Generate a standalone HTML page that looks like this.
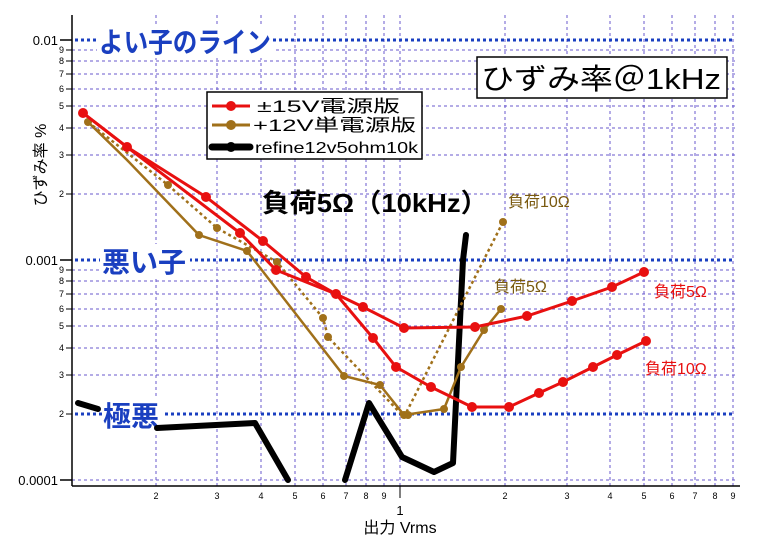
<!DOCTYPE html>
<html><head><meta charset="utf-8"><style>
html,body{margin:0;padding:0;background:#fff;}
svg{display:block;font-family:"Liberation Sans","Noto Sans CJK JP",sans-serif;}
</style></head><body>
<svg width="769" height="539" viewBox="0 0 769 539" xmlns="http://www.w3.org/2000/svg">
<rect width="769" height="539" fill="#fff"/>
<g stroke="#6a5acd" stroke-width="1" stroke-dasharray="3,3">
<line x1="156" y1="15" x2="156" y2="486"/><line x1="217" y1="15" x2="217" y2="486"/>
<line x1="261" y1="15" x2="261" y2="486"/><line x1="295" y1="15" x2="295" y2="486"/>
<line x1="323" y1="15" x2="323" y2="486"/><line x1="346" y1="15" x2="346" y2="486"/>
<line x1="366" y1="15" x2="366" y2="486"/><line x1="384" y1="15" x2="384" y2="486"/>
<line x1="400" y1="15" x2="400" y2="486"/><line x1="505" y1="15" x2="505" y2="486"/>
<line x1="567" y1="15" x2="567" y2="486"/><line x1="610" y1="15" x2="610" y2="486"/>
<line x1="644" y1="15" x2="644" y2="486"/><line x1="672" y1="15" x2="672" y2="486"/>
<line x1="695" y1="15" x2="695" y2="486"/><line x1="715" y1="15" x2="715" y2="486"/>
<line x1="733" y1="15" x2="733" y2="486"/>
<line x1="72" y1="50" x2="735" y2="50"/><line x1="72" y1="61" x2="735" y2="61"/>
<line x1="72" y1="74" x2="735" y2="74"/><line x1="72" y1="89" x2="735" y2="89"/>
<line x1="72" y1="106" x2="735" y2="106"/><line x1="72" y1="128" x2="735" y2="128"/>
<line x1="72" y1="155" x2="735" y2="155"/><line x1="72" y1="194" x2="735" y2="194"/>
<line x1="72" y1="270" x2="735" y2="270"/><line x1="72" y1="281" x2="735" y2="281"/>
<line x1="72" y1="294" x2="735" y2="294"/><line x1="72" y1="309" x2="735" y2="309"/>
<line x1="72" y1="326" x2="735" y2="326"/><line x1="72" y1="348" x2="735" y2="348"/>
<line x1="72" y1="375" x2="735" y2="375"/><line x1="72" y1="480" x2="735" y2="480"/>
</g>
<g stroke="#1a3fc0" stroke-width="3" stroke-dasharray="3,3">
<line x1="75" y1="40" x2="735" y2="40"/><line x1="75" y1="260" x2="735" y2="260"/><line x1="75" y1="414" x2="735" y2="414"/>
</g>
<g stroke="#000" stroke-width="1.5">
<line x1="72" y1="15" x2="72" y2="486"/><line x1="72" y1="486" x2="740" y2="486"/>
<line x1="60" y1="40" x2="72" y2="40"/><line x1="60" y1="260" x2="72" y2="260"/><line x1="60" y1="480" x2="72" y2="480"/>
</g>
<g stroke="#000" stroke-width="1">
<line x1="66" y1="50" x2="72" y2="50"/><line x1="66" y1="61" x2="72" y2="61"/><line x1="66" y1="74" x2="72" y2="74"/><line x1="66" y1="89" x2="72" y2="89"/><line x1="66" y1="106" x2="72" y2="106"/><line x1="66" y1="128" x2="72" y2="128"/><line x1="66" y1="155" x2="72" y2="155"/><line x1="66" y1="194" x2="72" y2="194"/>
<line x1="66" y1="270" x2="72" y2="270"/><line x1="66" y1="281" x2="72" y2="281"/><line x1="66" y1="294" x2="72" y2="294"/><line x1="66" y1="309" x2="72" y2="309"/><line x1="66" y1="326" x2="72" y2="326"/><line x1="66" y1="348" x2="72" y2="348"/><line x1="66" y1="375" x2="72" y2="375"/><line x1="66" y1="414" x2="72" y2="414"/>
<line x1="400" y1="486" x2="400" y2="498"/>
</g>
<g font-size="13" fill="#000" text-anchor="end">
<text x="58" y="45">0.01</text><text x="58" y="265">0.001</text><text x="58" y="485">0.0001</text>
</g>
<g font-size="9" fill="#000" text-anchor="end">
<text x="64" y="53">9</text><text x="64" y="64">8</text><text x="64" y="77">7</text><text x="64" y="92">6</text><text x="64" y="109">5</text><text x="64" y="131">4</text><text x="64" y="158">3</text><text x="64" y="197">2</text>
<text x="64" y="273">9</text><text x="64" y="284">8</text><text x="64" y="297">7</text><text x="64" y="312">6</text><text x="64" y="329">5</text><text x="64" y="351">4</text><text x="64" y="378">3</text><text x="64" y="417">2</text>
</g>
<g font-size="9" fill="#000" text-anchor="middle">
<text x="156" y="499">2</text><text x="217" y="499">3</text><text x="261" y="499">4</text><text x="295" y="499">5</text><text x="323" y="499">6</text><text x="346" y="499">7</text><text x="366" y="499">8</text><text x="384" y="499">9</text>
<text x="505" y="499">2</text><text x="567" y="499">3</text><text x="610" y="499">4</text><text x="644" y="499">5</text><text x="672" y="499">6</text><text x="695" y="499">7</text><text x="715" y="499">8</text><text x="733" y="499">9</text>
</g>
<text x="400" y="515" font-size="13" text-anchor="middle">1</text>
<text x="400" y="533" font-size="16" text-anchor="middle">出力  Vrms</text>
<text transform="translate(46,165) rotate(-90)" font-size="16" text-anchor="middle">ひずみ率  %</text>

<g font-weight="bold" font-size="28" fill="#1a3fc0">
<rect x="97" y="24" width="176" height="34" fill="#fff"/>
<text x="99" y="52" textLength="172" lengthAdjust="spacingAndGlyphs">よい子のライン</text>
<rect x="100" y="244" width="90" height="34" fill="#fff"/>
<text x="102" y="272">悪い子</text>
<rect x="103" y="398" width="60" height="34" fill="#fff"/>
<text x="103" y="426">極悪</text>
</g>

<g fill="none" stroke="#000" stroke-width="6" stroke-linejoin="round" stroke-linecap="round">
<polyline points="78,403 98,409"/>
<polyline points="157,428 255,423 288,480"/>
<polyline points="345,480 369,403 402,457 434,472 453,463 463,260 466,235"/>
</g>
<g fill="none" stroke="#a0701a" stroke-width="2.5">
<polyline points="88,122 127,160 199,235 247,251 344,376 380,385 404,415 444,409 461,367 484,330 501,309"/>
</g>
<g fill="none" stroke="#a0701a" stroke-width="2.5" stroke-dasharray="3,3">
<polyline points="88,122 168,185 217,228 277,262 323,318 328,337 404,417 503,222"/>
</g>
<g fill="#a0701a">
<circle cx="88" cy="122" r="4"/><circle cx="199" cy="235" r="4"/><circle cx="247" cy="251" r="4"/><circle cx="344" cy="376" r="4"/><circle cx="380" cy="385" r="4"/><circle cx="404" cy="415" r="4"/><circle cx="444" cy="409" r="4"/><circle cx="461" cy="367" r="4"/><circle cx="484" cy="330" r="4"/><circle cx="501" cy="309" r="4"/>
<circle cx="168" cy="185" r="4"/><circle cx="217" cy="228" r="4"/><circle cx="277" cy="262" r="4"/><circle cx="323" cy="318" r="4"/><circle cx="328" cy="337" r="4"/><circle cx="408" cy="415" r="4"/><circle cx="503" cy="222" r="4"/>
</g>
<g fill="none" stroke="#e81010" stroke-width="3">
<polyline points="83,113 127,147 206,197 263,241 306,277 336,294 363,307 404,328 475,327 527,316 572,301 612,287 644,272"/>
<polyline points="83,113 127,147 240,233 276,270 336,294 373,338 396,367 431,387 472,407 509,407 539,393 563,382 593,367 617,355 646,341"/>
</g>
<g fill="#e81010">
<circle cx="83" cy="113" r="5"/><circle cx="127" cy="147" r="5"/><circle cx="206" cy="197" r="5"/><circle cx="263" cy="241" r="5"/><circle cx="306" cy="277" r="5"/><circle cx="336" cy="294" r="5"/><circle cx="363" cy="307" r="5"/><circle cx="404" cy="328" r="5"/><circle cx="475" cy="327" r="5"/><circle cx="527" cy="316" r="5"/><circle cx="572" cy="301" r="5"/><circle cx="612" cy="287" r="5"/><circle cx="644" cy="272" r="5"/>
<circle cx="240" cy="233" r="5"/><circle cx="276" cy="270" r="5"/><circle cx="373" cy="338" r="5"/><circle cx="396" cy="367" r="5"/><circle cx="431" cy="387" r="5"/><circle cx="472" cy="407" r="5"/><circle cx="509" cy="407" r="5"/><circle cx="539" cy="393" r="5"/><circle cx="563" cy="382" r="5"/><circle cx="593" cy="367" r="5"/><circle cx="617" cy="355" r="5"/><circle cx="646" cy="341" r="5"/>
</g>

<rect x="207" y="92" width="215" height="67" fill="#fff" stroke="#000" stroke-width="1.5"/>
<line x1="212" y1="106" x2="250" y2="106" stroke="#e81010" stroke-width="3"/><circle cx="231" cy="106" r="5" fill="#e81010"/>
<line x1="212" y1="125" x2="250" y2="125" stroke="#a0701a" stroke-width="3"/><circle cx="231" cy="125" r="5" fill="#a0701a"/>
<line x1="212" y1="147" x2="250" y2="147" stroke="#000" stroke-width="7" stroke-linecap="round"/><circle cx="231" cy="147" r="5" fill="#000"/>
<g font-size="17" fill="#000">
<text x="257" y="112" textLength="143" lengthAdjust="spacingAndGlyphs">±15V電源版</text>
<text x="253" y="131" textLength="163" lengthAdjust="spacingAndGlyphs">+12V単電源版</text>
<text x="255" y="153" font-size="16" textLength="163" lengthAdjust="spacingAndGlyphs">refine12v5ohm10k</text>
</g>

<rect x="477" y="57" width="250" height="41" fill="#fff" stroke="#000" stroke-width="1.5"/>
<text x="481" y="89" font-size="29" fill="#000" textLength="240" lengthAdjust="spacingAndGlyphs">ひずみ率＠1kHz</text>

<text x="262" y="212" font-size="26" font-weight="bold" fill="#000" textLength="226" lengthAdjust="spacingAndGlyphs">負荷5Ω（10kHz）</text>
<g font-size="16">
<text x="508" y="207" fill="#7a5a10">負荷10Ω</text>
<text x="494" y="292" fill="#7a5a10">負荷5Ω</text>
<text x="654" y="297" fill="#e81010">負荷5Ω</text>
<text x="645" y="374" fill="#e81010">負荷10Ω</text>
</g>
</svg>
</body></html>
